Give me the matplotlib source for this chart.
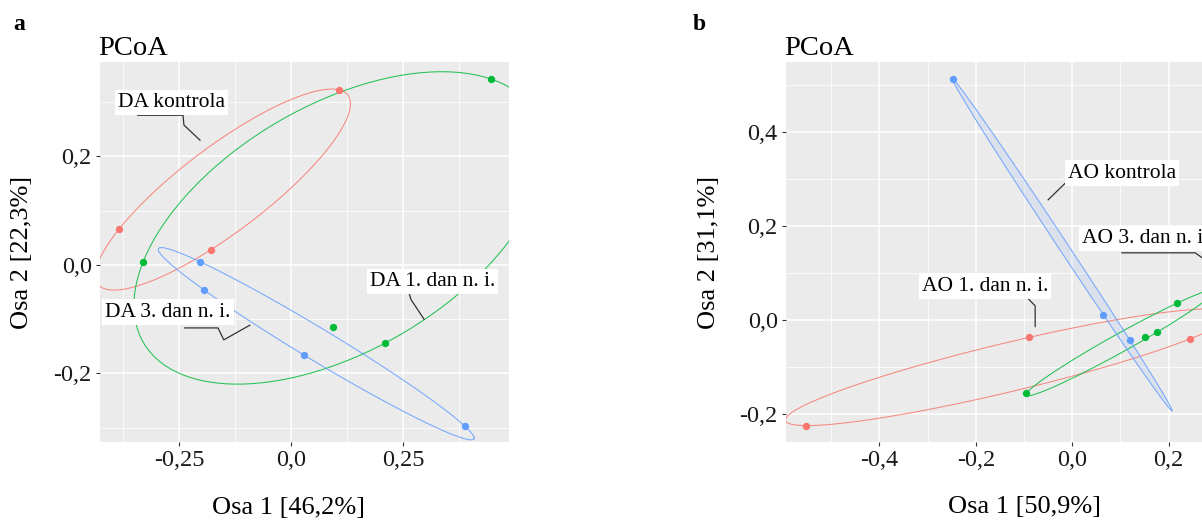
import numpy as np
import matplotlib
matplotlib.use("Agg")
import matplotlib.pyplot as plt

plt.rcParams['font.family'] = ['Liberation Serif', 'DejaVu Serif']

# ---- data ----
# panel a (DA)
da_groups = ['DA kontrola', 'DA 1. dan n. i.', 'DA 3. dan n. i.']
da_x = [[-0.384, 0.107, -0.179],
        [0.446, -0.330, 0.094, 0.210],
        [-0.203, -0.194, 0.029, 0.388]]
da_y = [[0.066, 0.323, 0.028],
        [0.343, 0.006, -0.114, -0.144],
        [0.006, -0.046, -0.166, -0.297]]
# panel b (AO)
ao_groups = ['AO 1. dan n. i.', 'AO 3. dan n. i.', 'AO kontrola']
ao_x = [[-0.089, -0.553, 0.245],
        [-0.095, 0.151, 0.176, 0.218],
        [-0.247, 0.0645, 0.1195]]
ao_y = [[-0.037, -0.225, -0.040],
        [-0.156, -0.036, -0.026, 0.036],
        [0.513, 0.011, -0.043]]

colors = ['#F8766D', '#00BA38', '#619CFF']


def hull_ellipse(xs, ys, segments=120, tol=1e-10):
    # minimum volume ellipse around the points (Khachiyan iteration)
    P = np.vstack([xs, ys])
    d, N = P.shape
    Q = np.vstack([P, np.ones(N)])
    u = np.ones(N) / N
    for it in range(20000):
        X = Q @ np.diag(u) @ Q.T
        M = np.einsum('ij,ji->i', Q.T @ np.linalg.inv(X), Q)
        j = np.argmax(M)
        step = (M[j] - d - 1.0) / ((d + 1.0) * (M[j] - 1.0))
        new_u = (1 - step) * u
        new_u[j] += step
        if np.linalg.norm(new_u - u) < tol:
            u = new_u
            break
        u = new_u
    c = P @ u
    S = (P * u) @ P.T - np.outer(c, c)
    L = np.linalg.cholesky(d * S)
    ang = np.linspace(0, 2 * np.pi, segments)
    circ = np.vstack([np.cos(ang), np.sin(ang)])
    e = c[:, None] + L @ circ
    return e[0], e[1]


def fmt(v):
    return '0,0' if v == 0 else ('%g' % v).replace('.', ',')


def style_panel(ax, xlim, ylim, xmaj, xmin, ymaj, ymin):
    ax.set_facecolor('#EBEBEB')
    for s in ax.spines.values():
        s.set_visible(False)
    ax.set_xlim(xlim)
    ax.set_ylim(ylim)
    ax.set_xticks(xmaj)
    ax.set_yticks(ymaj)
    ax.set_xticks(xmin, minor=True)
    ax.set_yticks(ymin, minor=True)
    ax.grid(which='major', color='white', lw=1.1)
    ax.grid(which='minor', color='white', lw=0.55)
    ax.set_axisbelow(True)
    ax.tick_params(which='major', length=3, width=0.8, color='#333333',
                   labelsize=17.5, labelcolor='#1a1a1a', pad=3)
    ax.tick_params(which='minor', length=0)
    ax.set_xticklabels([fmt(v) for v in xmaj])
    ax.set_yticklabels([fmt(v) for v in ymaj])


def label(ax, txt, x, y, path, ha='center'):
    ax.text(x, y, txt, fontsize=15.5, ha=ha, va='center', zorder=6,
            bbox=dict(boxstyle='square,pad=0.15', fc='white', ec='none'))
    px, py = zip(*path)
    ax.plot(px, py, color='#333333', lw=0.9, zorder=5)


fig = plt.figure(figsize=(12.02, 5.21), dpi=100)
W, H = 1202.0, 521.0

# ---- panel a ----
axa = fig.add_axes([100 / W, (H - 442) / H, 409 / W, 380 / H])
style_panel(axa, (-0.4263, 0.4866), (-0.3263, 0.3742),
            [-0.25, 0, 0.25], [-0.375, -0.125, 0.125, 0.375],
            [-0.2, 0, 0.2], [-0.3, -0.1, 0.1, 0.3])
for xs, ys, c in zip(da_x, da_y, colors):
    ex, ey = hull_ellipse(xs, ys)
    axa.plot(ex, ey, color=c, lw=0.75, alpha=0.85)
    axa.scatter(xs, ys, s=28, color=c, zorder=4, linewidths=0)

label(axa, 'DA kontrola', -0.267, 0.300,
      [(-0.342, 0.276), (-0.241, 0.276), (-0.239, 0.258), (-0.203, 0.230)])
label(axa, 'DA 3. dan n. i.', -0.275, -0.087,
      [(-0.237, -0.116), (-0.163, -0.116), (-0.150, -0.138), (-0.092, -0.111)])
label(axa, 'DA 1. dan n. i.', 0.316, -0.030,
      [(0.219, -0.050), (0.263, -0.050), (0.268, -0.064), (0.297, -0.100)])

axa.text(0.462, -0.174, 'Osa 1 [46,2%]', transform=axa.transAxes,
         fontsize=19, ha='center', va='center')
fig.text(22 / W, 1 - 252 / H, 'Osa 2 [22,3%]', fontsize=19, rotation=90,
         ha='center', va='center')
fig.text(98 / W, 1 - 55 / H, 'PCoA', fontsize=20.5, ha='left', va='baseline')
fig.text(19 / W, 1 - 25 / H, 'a', fontsize=17, fontweight='bold',
         ha='center', va='center')

# ---- panel b (runs past the right edge of the picture) ----
axb = fig.add_axes([786 / W, (H - 442) / H, 454 / W, 380 / H])
style_panel(axb, (-0.594, 0.348), (-0.260, 0.5495),
            [-0.4, -0.2, 0, 0.2], [-0.5, -0.3, -0.1, 0.1, 0.3],
            [-0.2, 0, 0.2, 0.4], [-0.1, 0.1, 0.3, 0.5])
for i, (xs, ys, c) in enumerate(zip(ao_x, ao_y, colors)):
    ex, ey = hull_ellipse(xs, ys)
    if i == 2:
        axb.fill(ex, ey, color=c, alpha=0.12, lw=0)
    axb.plot(ex, ey, color=c, lw=0.75, alpha=0.85)
    axb.scatter(xs, ys, s=28, color=c, zorder=4, linewidths=0)

label(axb, 'AO kontrola', 0.103, 0.313,
      [(0.092, 0.291), (-0.015, 0.291), (-0.050, 0.256)])
label(axb, 'AO 3. dan n. i.', 0.020, 0.173,
      [(0.103, 0.143), (0.255, 0.143), (0.300, 0.110)], ha='left')
label(axb, 'AO 1. dan n. i.', -0.181, 0.072,
      [(-0.248, 0.048), (-0.094, 0.048), (-0.077, 0.030), (-0.077, -0.014)])

fig.text(1024 / W, 1 - 507 / H, 'Osa 1 [50,9%]', fontsize=19,
         ha='center', va='center')
fig.text(709 / W, 1 - 252 / H, 'Osa 2 [31,1%]', fontsize=19, rotation=90,
         ha='center', va='center')
fig.text(784 / W, 1 - 55 / H, 'PCoA', fontsize=20.5, ha='left', va='baseline')
fig.text(699 / W, 1 - 25 / H, 'b', fontsize=17, fontweight='bold',
         ha='center', va='center')

fig.savefig('out.png', dpi=100, facecolor='white')
